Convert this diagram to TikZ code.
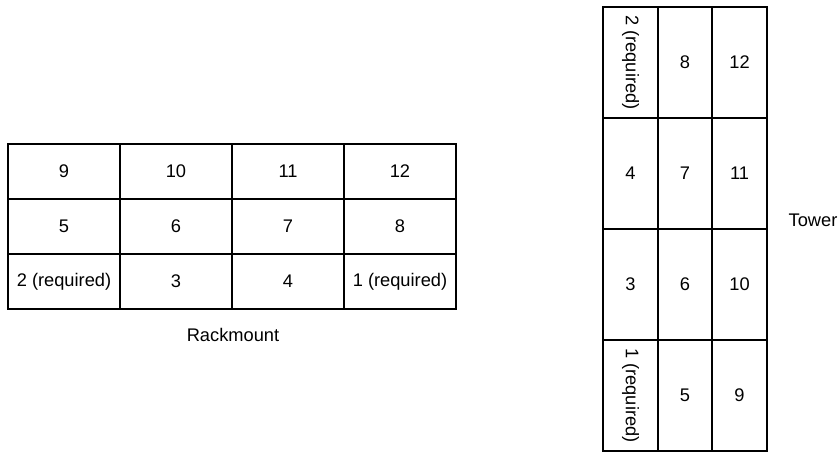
\documentclass[tikz,border=0pt]{standalone}
\usepackage{fontspec}
\setmainfont{Liberation Sans}
\usepackage{graphicx}
\usetikzlibrary{positioning}
\tikzset{
  rackbay/.style={draw, line width=1.5pt, inner sep=0pt,
    minimum width=84pt, minimum height=41.25pt},
  towerbay/.style={draw, line width=1.5pt, inner sep=0pt,
    minimum width=40.9pt, minimum height=83.25pt},
}

\begin{document}
\begin{tikzpicture}[x=0.75pt, y=-0.75pt,
    font=\fontsize{13.7}{16}\selectfont]
  \useasboundingbox (0,0) rectangle (840,454);
  % rackmount, 3 rows of 4
  \foreach \lbl [count=\i from 0] in
      {9,10,11,12,5,6,7,8,{2 (required)},3,4,{1 (required)}}
    \node[rackbay] (r\i) at ({64+112*mod(\i,4)}, {171.5+55*int(\i/4)}) {\lbl};
  \node[below=10pt of r9.south east] (rlabel) {Rackmount};
  % tower, 4 rows of 3
  \foreach \lbl [count=\i from 0] in
      {{\rotatebox{-90}{2 (required)}},8,12,4,7,11,3,6,10,
       {\rotatebox{-90}{1 (required)}},5,9}
    \node[towerbay] (t\i) at ({630.5+54.5*mod(\i,3)}, {62.5+111*int(\i/3)}) {\lbl};
  \node[inner sep=0pt] (tlabel) at (813,220) {Tower};
\end{tikzpicture}
\end{document}
